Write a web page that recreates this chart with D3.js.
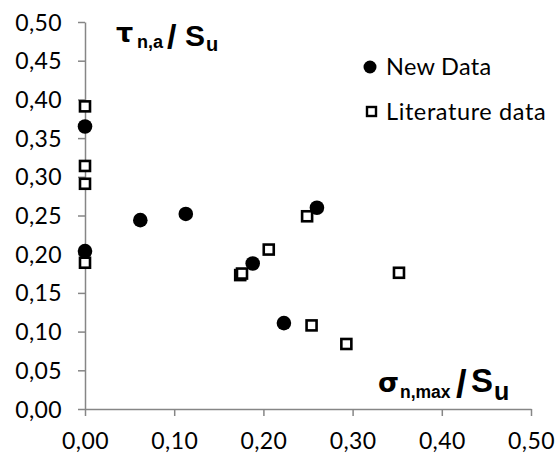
<!DOCTYPE html>
<html>
<head>
<meta charset="utf-8">
<script src="https://cdn.jsdelivr.net/npm/d3@7"></script>
<style>
  html, body { margin: 0; padding: 0; background: #fff; }
  svg { display: block; }
  .tick text { font-family: Lato, "Open Sans", sans-serif; font-size: 23px; letter-spacing: 0.4px; fill: #000; }
  .axis path, .axis line { stroke: #868686; stroke-width: 1.5px; }
  .title { font-family: "Liberation Sans", Arial, sans-serif; font-weight: bold; fill: #000; }
  .greek { font-family: "DejaVu Sans", sans-serif; font-weight: bold; }
</style>
</head>
<body>
<svg id="chart" width="555" height="459"></svg>
<script>
// New measurements (filled circles)
const newX = [0.000, 0.000, 0.062, 0.113, 0.188, 0.223, 0.260];
const newY = [0.365, 0.204, 0.244, 0.252, 0.188, 0.111, 0.260];

// Literature values (open squares)
const litX = [0.000, 0.000, 0.000, 0.000, 0.174, 0.176, 0.206, 0.249, 0.254, 0.293, 0.352];
const litY = [0.391, 0.314, 0.291, 0.189, 0.173, 0.175, 0.206, 0.249, 0.108, 0.084, 0.176];

// Axis ticks
const xTicks = [0, 0.1, 0.2, 0.3, 0.4, 0.5];
const yTicks = [0, 0.05, 0.10, 0.15, 0.20, 0.25, 0.30, 0.35, 0.40, 0.45, 0.50];

const seriesNames = ["New Data", "Literature data"];

const svg = d3.select("#chart");
const x = d3.scaleLinear().domain([0, 0.5]).range([85, 531]);
const y = d3.scaleLinear().domain([0, 0.5]).range([409, 22]);
const fmt = d => d.toFixed(2).replace(".", ",");

// Axes
svg.append("g").attr("class", "axis")
  .attr("transform", `translate(0,${y(0)})`)
  .call(d3.axisBottom(x).tickValues(xTicks).tickFormat(fmt).tickSize(7).tickSizeOuter(0).tickPadding(17));
const gy = svg.append("g").attr("class", "axis")
  .attr("transform", `translate(${x(0)},0)`)
  .call(d3.axisLeft(y).tickValues(yTicks).tickFormat(fmt).tickSize(7).tickSizeOuter(0).tickPadding(16));
gy.selectAll(".tick text").attr("dy", "0.35em");

// Points: circles first, squares on top
const newPts = newX.map((v, i) => ({ x: v, y: newY[i] }));
const litPts = litX.map((v, i) => ({ x: v, y: litY[i] }));

svg.append("g").selectAll("circle").data(newPts).join("circle")
  .attr("cx", d => x(d.x)).attr("cy", d => y(d.y)).attr("r", 7.3)
  .attr("fill", "#000");

const sq = 10;
svg.append("g").selectAll("rect").data(litPts).join("rect")
  .attr("x", d => x(d.x) - sq / 2).attr("y", d => y(d.y) - sq / 2)
  .attr("width", sq).attr("height", sq)
  .attr("fill", "#fff").attr("stroke", "#000").attr("stroke-width", 2.6);

// Legend
const lg = svg.append("g").style("font-family", "Lato, 'Open Sans', sans-serif").style("font-size", "23.5px");
lg.append("circle").attr("cx", 370).attr("cy", 67).attr("r", 6.5).attr("fill", "#000");
lg.append("text").attr("x", 386).attr("y", 75).style("letter-spacing", "0.3px").text(seriesNames[0]);
lg.append("rect").attr("x", 367).attr("y", 107).attr("width", 9).attr("height", 9)
  .attr("fill", "#fff").attr("stroke", "#000").attr("stroke-width", 2.4);
lg.append("text").attr("x", 386).attr("y", 120).style("letter-spacing", "0.6px").text(seriesNames[1]);

// Axis titles, each piece placed on its own baseline
function title(parts) {
  const t = svg.append("text").attr("class", "title");
  parts.forEach(p => t.append("tspan")
    .attr("class", p.greek ? "greek" : null)
    .attr("x", p.x).attr("y", p.y).style("font-size", p.size + "px").text(p.s));
}
title([
  { s: "τ",   x: 116, y: 42, size: 27, greek: true },
  { s: "n,a", x: 137, y: 48, size: 18 },
  { s: "/",   x: 167, y: 48, size: 34 },
  { s: "S",   x: 185, y: 46, size: 30 },
  { s: "u",   x: 206, y: 51, size: 20 }
]);
title([
  { s: "σ",     x: 378, y: 392, size: 27, greek: true },
  { s: "n,max", x: 400, y: 398, size: 17.5 },
  { s: "/",     x: 456, y: 397, size: 38 },
  { s: "S",     x: 471, y: 392, size: 33 },
  { s: "u",     x: 494, y: 400, size: 25 }
]);
</script>
</body>
</html>
